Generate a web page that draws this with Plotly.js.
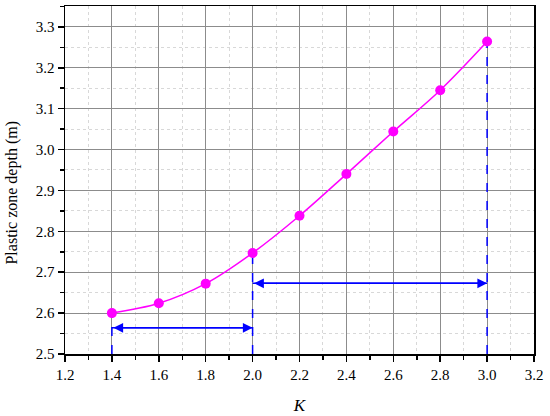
<!DOCTYPE html>
<html>
<head>
<meta charset="utf-8">
<script src="https://cdn.plot.ly/plotly-3.0.1.min.js"></script>
<style>html,body{margin:0;padding:0;background:#fff;}#chart{width:550px;height:416px;}</style>
</head>
<body>
<div id="chart"></div>
<script>
const kValues = [1.4, 1.6, 1.8, 2.0, 2.2, 2.4, 2.6, 2.8, 3.0];
const depthValues = [2.600, 2.624, 2.672, 2.747, 2.838, 2.940, 3.044, 3.145, 3.264];
const guideK = [1.4, 2.0, 3.0];
const guideTop = [2.600, 2.747, 3.264];
const arrowStart = [1.4, 2.0];
const arrowEnd = [2.0, 3.0];
const arrowLevel = [2.564, 2.673];
const xTicks = [1.2, 1.4, 1.6, 1.8, 2.0, 2.2, 2.4, 2.6, 2.8, 3.0, 3.2];
const yTicks = [2.5, 2.6, 2.7, 2.8, 2.9, 3.0, 3.1, 3.2, 3.3];
const xTitle = '<i>K</i>';
const yTitle = 'Plastic zone depth (m)';

const blue = '#0000FF';
const magenta = '#FF00FF';

const traces = [];
guideK.forEach((k, i) => {
  traces.push({
    x: [k, k], y: [2.5, guideTop[i]], mode: 'lines', type: 'scatter',
    line: {color: blue, width: 1.5, dash: 'dash'}, hoverinfo: 'skip', showlegend: false
  });
});
arrowStart.forEach((s, i) => {
  traces.push({
    x: [s, arrowEnd[i]], y: [arrowLevel[i], arrowLevel[i]], mode: 'lines', type: 'scatter',
    line: {color: blue, width: 1.5}, hoverinfo: 'skip', showlegend: false
  });
});
traces.push({
  x: kValues, y: depthValues, mode: 'lines+markers', type: 'scatter',
  line: {color: magenta, width: 1.5, shape: 'spline'},
  marker: {color: magenta, size: 10}, showlegend: false
});

const fam = 'Times New Roman';
const annotations = [];
arrowStart.forEach((s, i) => {
  annotations.push({
    x: arrowEnd[i], y: arrowLevel[i], ax: s, ay: arrowLevel[i],
    xref: 'x', yref: 'y', axref: 'x', ayref: 'y', text: '',
    showarrow: true, arrowhead: 2, arrowside: 'end+start', arrowsize: 1.3,
    arrowwidth: 1.5, arrowcolor: blue, standoff: 0, startstandoff: 0
  });
});
annotations.push({
  xref: 'paper', yref: 'paper', x: -0.113, y: 0.464, xanchor: 'center', yanchor: 'middle',
  text: yTitle, textangle: -90, showarrow: false,
  font: {family: fam, size: 16, color: '#000'}
});

const layout = {
  width: 550, height: 416,
  margin: {l: 65, r: 16, t: 6, b: 62},
  paper_bgcolor: '#fff', plot_bgcolor: '#fff',
  font: {family: fam, size: 15, color: '#000'},
  xaxis: {
    range: [1.2, 3.2], tickvals: xTicks, ticktext: xTicks.map(v => v.toFixed(1)),
    ticks: 'outside', ticklen: 6, tickwidth: 1.5, tickcolor: '#000',
    showline: true, linecolor: '#000', linewidth: 1.5, mirror: true,
    showgrid: true, gridcolor: '#8c8c8c', gridwidth: 1, zeroline: false,
    minor: {dtick: 0.1, tick0: 1.2, ticks: 'outside', ticklen: 4, tickcolor: '#000', showgrid: true, gridcolor: '#d8d8d8', griddash: 'dot', gridwidth: 1},
    tickfont: {family: fam, size: 15, color: '#000'},
    title: {text: xTitle, font: {family: fam, size: 17, color: '#000'}, standoff: 17}
  },
  yaxis: {
    range: [2.5, 3.351], tickvals: yTicks, ticktext: yTicks.map(v => v.toFixed(1)),
    ticks: 'outside', ticklen: 6, tickwidth: 1.5, tickcolor: '#000',
    showline: true, linecolor: '#000', linewidth: 1.5, mirror: true,
    showgrid: true, gridcolor: '#8c8c8c', gridwidth: 1, zeroline: false,
    minor: {dtick: 0.05, tick0: 2.5, ticks: 'outside', ticklen: 4, tickcolor: '#000', showgrid: true, gridcolor: '#d8d8d8', griddash: 'dot', gridwidth: 1},
    tickfont: {family: fam, size: 15, color: '#000'}
  },
  annotations: annotations
};

Plotly.newPlot('chart', traces, layout, {displayModeBar: false, staticPlot: true});
</script>
</body>
</html>
